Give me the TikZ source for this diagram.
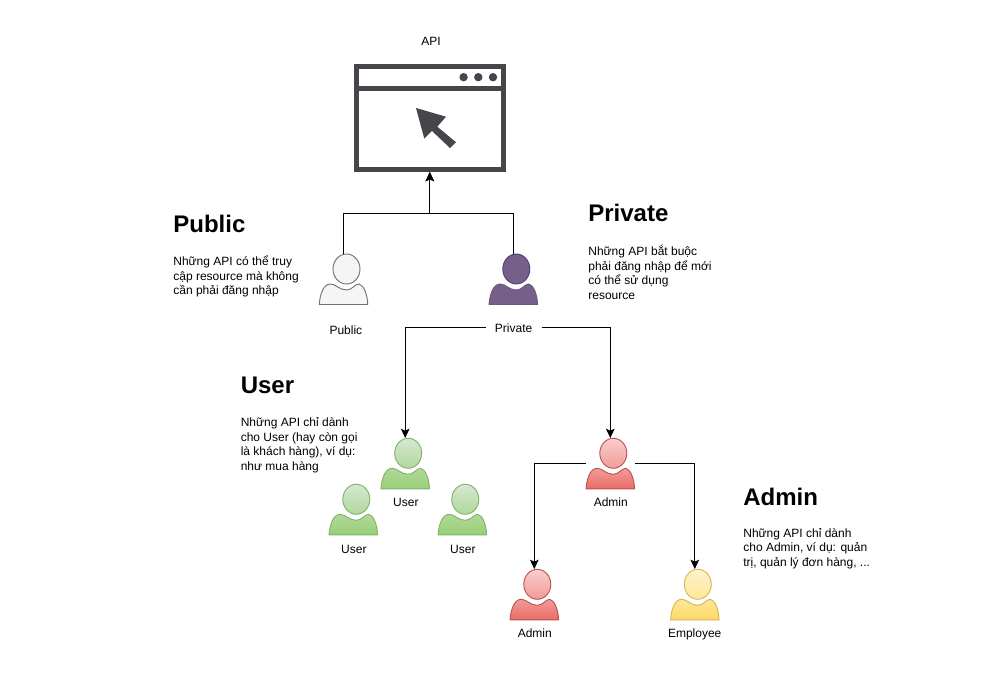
\documentclass[tikz,border=0pt]{standalone}
\usepackage{fontspec}
\setmainfont{Liberation Sans}
\usetikzlibrary{arrows.meta}
\definecolor{W}{HTML}{444649}
\tikzset{
  conn/.style={black, line width=0.8pt, -{Stealth[length=7pt,width=6.5pt,inset=1.5pt]}},
  personbox/.style={inner sep=0pt, minimum width=36.375pt, minimum height=37.875pt},
  lbl/.style={font=\fontsize{9}{10.8}\selectfont, inner sep=0pt, text height=8pt, text depth=1pt},
  heading/.style={font=\bfseries\fontsize{18}{21.6}\selectfont, anchor=base west, inner sep=0pt},
  note/.style={font=\fontsize{9}{10.8}\selectfont, anchor=north west, align=left, inner sep=0pt, execute at begin node=\strut},
  grayhead/.style={draw=black!55, line width=0.7pt, fill=black!4},
  graybody/.style={draw=black!55, line width=0.7pt, fill=black!4},
  purphead/.style={draw={rgb,255:red,85;green,60;blue,110}, line width=0.7pt, fill={rgb,255:red,118;green,96;blue,138}},
  purpbody/.style={draw={rgb,255:red,110;green,88;blue,130}, line width=0.7pt, fill={rgb,255:red,118;green,96;blue,138}},
  greenhead/.style={draw={rgb,255:red,130;green,179;blue,102}, line width=0.7pt, top color={rgb,255:red,213;green,232;blue,212}, bottom color={rgb,255:red,176;green,216;blue,155}},
  greenbody/.style={draw={rgb,255:red,130;green,179;blue,102}, line width=0.7pt, top color={rgb,255:red,176;green,216;blue,155}, bottom color={rgb,255:red,151;green,208;blue,119}},
  redhead/.style={draw={rgb,255:red,184;green,84;blue,80}, line width=0.7pt, top color={rgb,255:red,248;green,206;blue,204}, bottom color={rgb,255:red,241;green,156;blue,153}},
  redbody/.style={draw={rgb,255:red,184;green,84;blue,80}, line width=0.7pt, top color={rgb,255:red,241;green,156;blue,153}, bottom color={rgb,255:red,234;green,107;blue,102}},
  yellowhead/.style={draw={rgb,255:red,214;green,182;blue,86}, line width=0.7pt, top color={rgb,255:red,255;green,242;blue,204}, bottom color={rgb,255:red,255;green,230;blue,153}},
  yellowbody/.style={draw={rgb,255:red,214;green,182;blue,86}, line width=0.7pt, top color={rgb,255:red,255;green,230;blue,153}, bottom color={rgb,255:red,255;green,217;blue,102}},
}
% name, centre x, top y, colour
\newcommand{\personfig}[4]{
  \begin{scope}[shift={(#2,#3)}]
    \node[personbox] (#1) at (0,25.25) {};
    \draw[#4body] (-24.25,50.5) .. controls (-23.5,40) and (-20,30) .. (-13,30)
      .. controls (-8,30) and (-4,36) .. (3,36)
      .. controls (9,36) and (11,30) .. (15.5,30)
      .. controls (20,31) and (24,40) .. (24.25,50.5) -- cycle;
    \draw[#4head] (3,15) ellipse [x radius=13.5, y radius=15];
  \end{scope}
}
\begin{document}
\begin{tikzpicture}[x=0.75pt, y=-0.75pt]
  \useasboundingbox (0,0) rectangle (1008,680);

  % window
  \node[draw=W, line width=3.75pt, inner sep=0pt, minimum width=110.55pt, minimum height=77.55pt] (api) at (429.8,117.8) {};
  \draw[W, line width=3.5pt] (357,88.6) -- (502,88.6);
  \fill[W] (463.6,77.2) circle (4.2);
  \fill[W] (478.3,77.2) circle (4.2);
  \fill[W] (493,77.2) circle (4.2);
  \fill[W] (416,108) -- (446,116.7) -- (437.3,126.7) -- (456,142.3) -- (450,148) -- (432,131) -- (424.3,138.7) -- cycle;
  \node[lbl] (apilbl) at (431,41.1) {API};

  % people
  \personfig{pub}{343.5}{254}{gray}
  \personfig{priv}{513.3}{254}{purp}
  \personfig{usr}{405.2}{438.3}{green}
  \personfig{usrl}{353.3}{484.3}{green}
  \personfig{usrr}{462.3}{484.3}{green}
  \personfig{adm}{610.3}{438.3}{red}
  \personfig{admb}{534.3}{569.3}{red}
  \personfig{emp}{694.8}{569.3}{yellow}

  \node[lbl] (publbl) at (345.9,330.1) {Public};
  \node[lbl, minimum width=41.55pt] (privlbl) at (513.6,327.5) {Private};
  \node[lbl] (usrlbl) at (405.9,502.1) {User};
  \node[lbl] (usrllbl) at (353.9,548.8) {User};
  \node[lbl] (usrrlbl) at (462.9,548.8) {User};
  \node[lbl] (admlbl) at (610.8,502.1) {Admin};
  \node[lbl] (admblbl) at (534.8,632.8) {Admin};
  \node[lbl] (emplbl) at (694.7,632.8) {Employee};

  % connectors
  \coordinate (join) at (429.8,213.5);
  \draw[conn] (pub.north) |- (join) -- (api.south);
  \draw[conn] (priv.north) |- (join) -- (api.south);
  \draw[conn] (privlbl.west) -| (usr.north);
  \draw[conn] (privlbl.east) -| (adm.north);
  \draw[conn] (adm.west) -| (admb.north);
  \draw[conn] (adm.east) -| (emp.north);

  % texts
  \node[heading] (pubhead) at (173.1,232.5) {Public};
  \node[note] (pubnote) at (173.1,255.9) {Những API có thể truy\\cập resource mà không\\cần phải đăng nhập};
  \node[heading] (privhead) at (588.1,221.5) {Private};
  \node[note] (privnote) at (588.1,245.2) {Những API bắt buộc\\phải đăng nhập để mới\\có thể sử dụng\\resource};
  \node[heading] (usrhead) at (240.5,393.5) {User};
  \node[note] (usrnote) at (240.5,417.6) {Những API chỉ dành\\cho User (hay còn gọi\\là khách hàng), ví dụ:\\như mua hàng};
  \node[heading] (admhead) at (743.1,505.1) {Admin};
  \node[note] (admnote) at (743.1,528.2) {Những API chỉ dành\\cho Admin, ví dụ: quản\\trị, quản lý đơn hàng, ...};
\end{tikzpicture}
\end{document}
